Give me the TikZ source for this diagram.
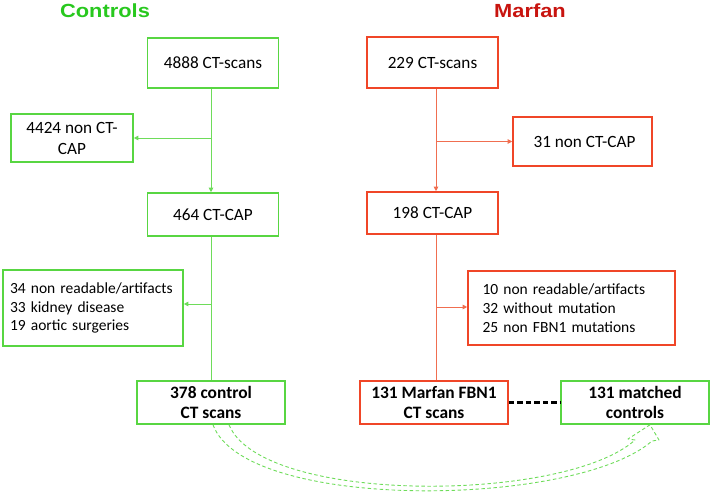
\documentclass[tikz,border=0pt]{standalone}
\usepackage{fontspec}
\setmainfont{Carlito}
\newfontfamily\titlefont[FakeStretch=1.15]{Liberation Sans}
\usetikzlibrary{arrows.meta}
\definecolor{gbox}{RGB}{88,214,66}
\definecolor{gline}{RGB}{110,220,90}
\definecolor{gtitle}{RGB}{40,200,30}
\definecolor{rbox}{RGB}{240,70,40}
\definecolor{rline}{RGB}{240,110,80}
\definecolor{rtitle}{RGB}{200,20,15}
\tikzset{
  gnode/.style={draw=gbox, line width=1.6pt, align=center, inner sep=0pt},
  rnode/.style={draw=rbox, line width=1.6pt, align=center, inner sep=0pt},
  txt/.style={font=\fontsize{15.5}{18.7}\selectfont},
  ltxt/.style={font=\fontsize{17.2}{21}\selectfont},
  btxt/.style={font=\fontsize{17.4}{20}\selectfont\bfseries},
  gconn/.style={draw=gline, line width=0.9pt},
  rconn/.style={draw=rline, line width=0.9pt},
  tip/.style={-{Triangle[length=4.5pt,width=4.5pt]}},
}
\begin{document}
\begin{tikzpicture}[x=1pt,y=-1pt]
\useasboundingbox (0,0) rectangle (711,492);
% titles
\node[font=\titlefont\bfseries\fontsize{19}{22}\selectfont, text=gtitle] (tc) at (105,10.5) {Controls};
\node[font=\titlefont\bfseries\fontsize{19}{22}\selectfont, text=rtitle] (tm) at (530,10.5) {Marfan};
% controls column
\node[gnode, ltxt, minimum width=131pt, minimum height=50pt] (c1) at (213,63) {4888 CT-scans};
\node[gnode, ltxt, minimum width=122pt, minimum height=48pt] (c2) at (72,138) {4424 non CT-\\CAP};
\node[gnode, ltxt, minimum width=131pt, minimum height=43pt] (c3) at (213,214.5) {464 CT-CAP};
\node[gnode, txt, minimum width=180pt, minimum height=76pt, align=left, text width=166pt] (c4) at (93,308) {34 non readable/artifacts\\33 kidney disease\\19 aortic surgeries};
\node[gnode, btxt, minimum width=148pt, minimum height=43pt] (c5) at (211,402.5) {378 control\\CT scans};
% marfan column
\node[rnode, ltxt, minimum width=131pt, minimum height=51pt] (m1) at (432.5,62.5) {229 CT-scans};
\node[rnode, ltxt, minimum width=139pt, minimum height=49pt] (m2) at (582.5,141.5) {\hspace*{4pt}31 non CT-CAP};
\node[rnode, ltxt, minimum width=131pt, minimum height=42pt] (m3) at (432.5,213) {198 CT-CAP};
\node[rnode, txt, minimum width=207pt, minimum height=74pt, align=left, text width=178pt] (m4) at (571.5,308) {10 non readable/artifacts\\32 without mutation\\25 non FBN1 mutations};
\node[rnode, btxt, minimum width=148pt, minimum height=43pt] (m5) at (434,402.5) {131 Marfan FBN1\\CT scans};
\node[gnode, btxt, minimum width=148pt, minimum height=43pt] (m6) at (635,402.5) {131 matched\\controls};
% controls connectors
\coordinate (cx) at (211,0);
\coordinate (mx) at (436,0);
\draw[gconn, tip] (cx |- c1.south) -- (cx |- c3.north);
\draw[gconn, tip] (cx |- c2.east) -- (c2.east);
\draw[gconn] (cx |- c3.south) -- (cx |- c5.north);
\draw[gconn, tip] (cx |- 0,304) -- (c4.east |- 0,304);
% marfan connectors
\draw[rconn, tip] (mx |- m1.south) -- (mx |- m3.north);
\draw[rconn, tip] (mx |- m2.west) -- (m2.west);
\draw[rconn] (mx |- m3.south) -- (mx |- m5.north);
\draw[rconn, tip] (mx |- 0,307) -- (m4.west |- 0,307);
% matched link
\draw[black, line width=2.4pt, dash pattern=on 5.5pt off 3pt] (m5.east) -- (m6.west);
% curved outline arrow
\draw[gline, line width=0.9pt, dash pattern=on 3.5pt off 2.5pt, line join=round]
  (c5.south -| 213,0) .. controls (245,512) and (575,508) .. (652,441)
  -- (659,440) -- (m6.south -| 650,0) -- (628,439) -- (635,440)
  .. controls (565,503) and (262,505) .. (c5.south -| 229,0);
\end{tikzpicture}
\end{document}
